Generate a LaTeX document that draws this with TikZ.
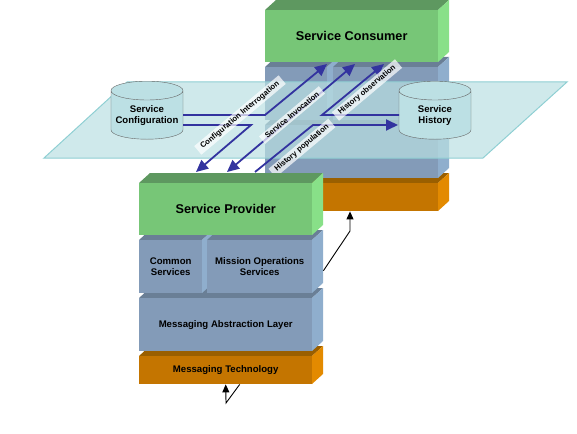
\documentclass[tikz,border=0pt]{standalone}
\usepackage{fontspec}
\setmainfont{Liberation Sans}
\usepackage{tikz}
\usetikzlibrary{arrows.meta}
\usetikzlibrary{shapes.geometric}
\definecolor{greenfront}{RGB}{119,198,119}
\definecolor{greentop}{RGB}{94,152,96}
\definecolor{greenside}{RGB}{136,224,136}
\definecolor{bluefront}{RGB}{131,155,184}
\definecolor{bluetop}{RGB}{106,127,150}
\definecolor{blueside}{RGB}{143,174,205}
\definecolor{orangefront}{RGB}{196,117,0}
\definecolor{orangetop}{RGB}{154,95,0}
\definecolor{orangeside}{RGB}{227,138,0}
\definecolor{planefill}{RGB}{186,224,226}
\definecolor{planeline}{RGB}{143,207,211}
\definecolor{storefill}{RGB}{188,224,228}
\definecolor{flowblue}{RGB}{51,51,159}
% name, x, y, width, height, colour, text
\newcommand{\slab}[7]{
    \fill[#6top] (#2,#3) -- ++(11,-10) -- ++(#4,0) -- ++(-11,10) -- cycle;
    \fill[#6side] (#2,#3) ++(#4,0) -- ++(11,-10) -- ++(0,#5) -- ++(-11,10) -- cycle;
    \node[slabbox, fill=#6front, minimum width=#4pt, minimum height=#5pt] (#1) at (#2,#3) {#7};
}
\begin{document}
\begin{tikzpicture}[x=1pt, y=-1pt,
    slabbox/.style = {anchor=north west, inner sep=0pt, align=center, font=\fontsize{9.6}{11.5}\selectfont\bfseries},
    store/.style = {cylinder, shape border rotate=90, aspect=0.55, draw=gray!80!black, cylinder uses custom fill, cylinder body fill=storefill, cylinder end fill=storefill, minimum width=72pt, minimum height=58pt, inner sep=0pt, font=\fontsize{9.6}{11.5}\selectfont\bfseries},
    storetext/.style = {yshift=-0.5pt, inner sep=0pt, align=center, font=\fontsize{9.6}{11.5}\selectfont\bfseries},
    flow/.style = {draw=flowblue, line width=1.8pt, -{Triangle[length=12pt,width=11pt]}},
    wire/.style = {draw=black, line width=0.9pt, -{Triangle[length=8pt,width=7pt]}},
    tag/.style = {rotate=40, fill=white, fill opacity=0.7, text opacity=1, inner xsep=5pt, inner ysep=2pt, font=\fontsize{7.7}{9}\selectfont\bfseries}]
    \useasboundingbox (0,0) rectangle (577,433);
    % consumer stack
    \slab{consumertech}{265}{183}{173}{28}{orange}{}
    \slab{consumerlayer}{265}{125}{173}{53}{blue}{}
    \slab{consumercommon}{265}{67}{62}{53}{blue}{}
    \slab{consumermission}{333}{67}{105}{53}{blue}{}
    \slab{consumer}{265}{10}{173}{52}{green}{\fontsize{12.7}{15}\selectfont Service Consumer}
    % plane
    \fill[planefill, fill opacity=0.7] (44,158) -- (127,82) -- (567,82) -- (483,158) -- cycle;
    \draw[planeline, line width=1pt] (44,158) -- (127,82) -- (567,82) -- (483,158) -- cycle;
    \node[store, label={[storetext]center:Service\\Configuration}] (config) at (147,115) {\phantom{Service}};
    \node[store, label={[storetext]center:Service\\History}] (history) at (435,115) {\phantom{Service}};
    \coordinate (configout) at (183,115);
    \coordinate (configback) at (183,125);
    \coordinate (historyout) at (399,115);
    \coordinate (historyin) at (398,125);
    \coordinate (bendA) at (265,115);
    \coordinate (bendB) at (251,125);
    \coordinate (bendC) at (322,115);
    \coordinate (bendD) at (313,125);
    % flows
    \draw[flow] (configout) -- (bendA) -- (327,64);
    \draw[flow] (configback) -- (bendB) -- (196,172);
    \draw[flow, {Triangle[length=12pt,width=11pt]}-{Triangle[length=12pt,width=11pt]}] (227,172) -- (355,64);
    \draw[flow] (historyout) -- (bendC) -- (384,64);
    \draw[flow] (255,172) -- (bendD) -- (historyin);
    \node[tag] (interrogation) at (240,115) {Configuration Interrogation};
    \node[tag] (invocation) at (292,115) {Service Invocation};
    \node[tag] (population) at (302,148) {History population};
    \node[tag] (observation) at (367,90) {History observation};
    % provider stack
    \slab{providertech}{139}{356}{173}{28}{orange}{Messaging Technology}
    \slab{providerlayer}{139}{298}{173}{53}{blue}{Messaging Abstraction Layer}
    \slab{providercommon}{139}{240}{63}{53}{blue}{Common\\Services}
    \slab{providermission}{207}{240}{105}{53}{blue}{Mission Operations\\Services}
    \slab{provider}{139}{183}{173}{52}{green}{\fontsize{12.7}{15}\selectfont Service Provider}
    \coordinate (upperbend) at (350,231);
    \coordinate (lowerbend) at (226,403);
    \draw[wire] ([shift={(11pt,-4pt)}]providermission.east) -- (upperbend) -- (consumertech.south -| upperbend);
    \draw[wire] ([xshift=14pt]providertech.south) -- (lowerbend) -- (providertech.south);
\end{tikzpicture}
\end{document}
